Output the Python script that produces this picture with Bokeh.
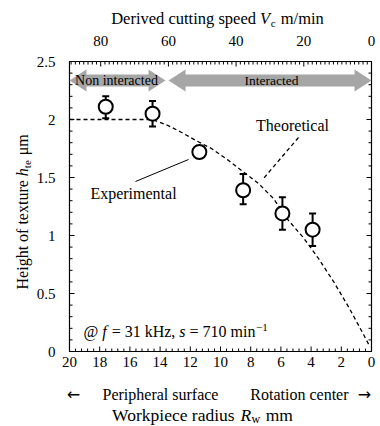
import math
import numpy as np
from bokeh.plotting import figure
from bokeh.models import Range1d, Label, Whisker, ColumnDataSource, TeeHead
from bokeh.core.properties import value
from bokeh.embed import file_html
from bokeh.resources import INLINE

# ---------------- data ----------------
radius_exp = [17.6, 14.5, 11.4, 8.5, 5.9, 3.9]          # mm
height_exp = [2.11, 2.05, 1.72, 1.39, 1.19, 1.05]       # um
height_upper = [2.20, 2.16, 1.72, 1.53, 1.33, 1.19]
height_lower = [2.01, 1.94, 1.72, 1.27, 1.05, 0.91]

radius_theory = [20, 14.5, 13.5, 12.6, 11.5, 10.6, 9.5, 8.5, 7.5, 6.5, 5.5, 4.5, 3.5, 2.5, 1.5, 0.5, 0.1]
height_theory = [2.0, 2.0, 1.95, 1.89, 1.81, 1.75, 1.65, 1.55, 1.45, 1.32, 1.13, 0.98, 0.80, 0.60, 0.38, 0.14, 0.04]

zone_names = ["Non interacted", "Interacted"]
zone_from = [20.0, 13.44]
zone_to = [13.64, 0.0]

radius_ticks = [20, 18, 16, 14, 12, 10, 8, 6, 4, 2, 0]
height_ticks = [0, 0.5, 1, 1.5, 2, 2.5]
speed_ticks = [80, 60, 40, 20, 0]

spindle_speed = 710     # min^-1
frequency_khz = 31
R_MAX, H_MAX = 20.0, 2.5
vc_max = 2 * math.pi * R_MAX * spindle_speed / 1000.0   # m/min at R = 20 mm

FONT = "Liberation Serif"

# ---------------- geometry (page pixels) ----------------
W, HT = 380, 425
FL, FT, FW, FH = 69, 61, 302, 290      # plot box
PXX = R_MAX / FW                       # R units per px
PXY = H_MAX / FH                       # h units per px

def X(px):
    return R_MAX * (FL + FW - px) / FW

def Y(py):
    return H_MAX * (FT + FH - py) / FH

p = figure(width=W, height=HT, x_range=Range1d(X(0), X(W)), y_range=Range1d(Y(HT), Y(0)),
           min_border=0, output_backend="svg", toolbar_location=None,
           x_axis_location=None, y_axis_location=None)
p.xgrid.visible = False
p.ygrid.visible = False
p.outline_line_color = None
p.background_fill_color = "white"
p.border_fill_color = "white"

# ---------------- axes box and ticks ----------------
p.quad(left=[R_MAX], right=[0], bottom=[0], top=[H_MAX], fill_color=None,
       line_color="black", line_width=1.2)

MAJ, MIN = 5, 3
def seg(x0, y0, x1, y1):
    p.segment(x0=x0, y0=y0, x1=x1, y1=y1, line_color="black", line_width=1)

# bottom (radius) ticks: major every 2, minor every 0.4
r_minor = [v for v in np.round(np.arange(0, R_MAX + 1e-9, 0.4), 6) if abs(v / 2 - round(v / 2)) > 1e-6]
seg(radius_ticks, [0] * len(radius_ticks), radius_ticks, [MAJ * PXY] * len(radius_ticks))
seg(r_minor, [0] * len(r_minor), r_minor, [MIN * PXY] * len(r_minor))

# top (speed) ticks: major every 20, minor every 1.25
v_minor = [v for v in np.arange(0, vc_max, 1.25) if abs(v / 20 - round(v / 20)) > 1e-6]
vt = [v / vc_max * R_MAX for v in speed_ticks]
vm = [v / vc_max * R_MAX for v in v_minor]
seg(vt, [H_MAX] * len(vt), vt, [H_MAX - MAJ * PXY] * len(vt))
seg(vm, [H_MAX] * len(vm), vm, [H_MAX - MIN * PXY] * len(vm))

# left / right (height) ticks: major every 0.5, minor every 0.1
h_minor = [v for v in np.round(np.arange(0, H_MAX + 1e-9, 0.1), 6) if abs(v / 0.5 - round(v / 0.5)) > 1e-6]
for side, d in ((R_MAX, -1), (0.0, 1)):
    seg([side] * len(height_ticks), height_ticks, [side + d * MAJ * PXX] * len(height_ticks), height_ticks)
    seg([side] * len(h_minor), h_minor, [side + d * MIN * PXX] * len(h_minor), h_minor)

# tick labels
TK = value("15px")
def tick_text(xv, yv, labels, align):
    p.text(x=xv, y=yv, text=labels, text_font=value(FONT), text_font_size=TK,
           text_align=value(align), text_baseline=value("middle"), text_color="black")

tick_text(radius_ticks, [Y(361)] * len(radius_ticks), [str(v) for v in radius_ticks], "center")
tick_text(vt, [Y(40)] * len(vt), [str(v) for v in speed_ticks], "center")
tick_text([X(55)] * len(height_ticks), height_ticks, [f"{v:g}" for v in height_ticks], "right")

# ---------------- zone arrows ----------------
L = 17 * PXX      # head length
H = 11 * PXY      # head half height
S = 6 * PXY       # shaft half height
c = Y(80)
xs, ys = [], []
for a, b in zip(zone_from, zone_to):
    xs.append([a, a - L, a - L, b + L, b + L, b, b + L, b + L, a - L, a - L])
    ys.append([c, c + H, c + S, c + S, c + H, c, c - H, c - S, c - S, c - H])
p.patches(xs, ys, fill_color="#a6a6a6", line_color=None)

# ---------------- theoretical curve ----------------
p.line(radius_theory, height_theory, line_color="black", line_width=1.3, line_dash="4 3")

# leader lines
p.line([X(298), X(263)], [Y(137), Y(178)], line_color="black", line_width=1.3, line_dash="4 3")
p.line([X(135), X(188)], [Y(181), Y(159)], line_color="black", line_width=1)

# ---------------- experimental ----------------
src = ColumnDataSource(dict(r=radius_exp, h=height_exp, up=height_upper, lo=height_lower))
w = Whisker(source=src, base="r", upper="up", lower="lo", dimension="height",
            line_color="black", line_width=2,
            upper_head=TeeHead(size=7, line_width=2, line_color="black"),
            lower_head=TeeHead(size=7, line_width=2, line_color="black"))
p.add_layout(w)
p.scatter("r", "h", source=src, marker="circle", size=14, fill_color="white",
          line_color="black", line_width=2)

# ---------------- texts ----------------
REG = {' ': 250, '@': 921, '=': 564, ',': 250, '/': 278, '-': 333, '.': 250, '\u2212': 564,
       'A': 722, 'B': 667, 'C': 667, 'D': 722, 'E': 611, 'F': 556, 'G': 722, 'H': 722, 'I': 333,
       'K': 722, 'L': 611, 'M': 889, 'N': 722, 'O': 722, 'P': 556, 'R': 667, 'S': 556, 'T': 611,
       'V': 722, 'W': 944,
       'a': 444, 'b': 500, 'c': 444, 'd': 500, 'e': 444, 'f': 333, 'g': 500, 'h': 500, 'i': 278,
       'j': 278, 'k': 500, 'l': 278, 'm': 778, 'n': 500, 'o': 500, 'p': 500, 'q': 500, 'r': 333,
       's': 389, 't': 278, 'u': 500, 'v': 500, 'w': 722, 'x': 500, 'y': 500, 'z': 444,
       '\u03bc': 576}
ITA = {'f': 278, 's': 389, 'h': 500, 'R': 611, 'V': 611, 'w': 667}

def tw(text, st, size):
    tab = ITA if st == "italic" else REG
    return sum(tab.get(ch, REG.get(ch, 500)) for ch in text) * size / 1000.0

N, I = "normal", "italic"

def lab(px, py, text, size, align="left", st=N, xo=0.0, yo=0.0, angle=0.0, font=FONT):
    p.add_layout(Label(x=X(px), y=Y(py), x_offset=xo, y_offset=yo, angle=angle, text=text,
                       text_font=font, text_font_style=st, text_font_size=f"{size}px",
                       text_align=align, text_baseline="middle", text_color="black"))

def rich(px, py, pieces, align="left", vertical=False):
    """pieces: (text, style, size, rise, extra_px); px/py: anchor at the text's vertical middle"""
    widths = [tw(t, st, sz) + ex for t, st, sz, d, ex in pieces]
    total = sum(widths)
    off = 0.0 if align == "left" else (-total / 2 if align == "center" else -total)
    for (t, st, sz, d, ex), wd in zip(pieces, widths):
        body = t.lstrip(" ")
        lead = (len(t) - len(body)) * REG[' '] * sz / 1000.0
        if vertical:
            lab(px, py, body, sz, st=st, xo=-d, yo=off + lead, angle=math.pi / 2)
        else:
            lab(px, py, body, sz, st=st, xo=off + lead, yo=d)
        off += wd

# zone texts and annotations
lab(116, 80, zone_names[0], 14, align="center")
lab(271, 80, zone_names[1], 13.5, align="center")
lab(292, 125, "Theoretical", 16, align="center")
lab(133, 193, "Experimental", 16, align="center")

rich(83, 331, [("@ ", N, 16, 0, 0), ("f", I, 16, 0, 1), (f" = {frequency_khz} kHz, ", N, 16, 0, 0),
               ("s", I, 16, 0, 0), (f" = {spindle_speed} min", N, 16, 0, 0.5), ("\u22121", N, 11, 4.5, 0)])

# axis titles
rich(217, 18, [("Derived cutting speed ", N, 16.5, 0, 0), ("V", I, 16.5, 0, 0.5),
               ("c", N, 11, -4.5, 1), (" m/min", N, 16.5, 0, 0)], align="center")
rich(22, 211, [("Height of texture ", N, 16, 0, 0), ("h", I, 16, 0, 0),
               ("te", N, 11, -4.5, 1), (" \u03bcm", N, 16, 0, 0)], align="center", vertical=True)
rich(202, 414, [("Workpiece radius ", N, 17.5, 0, 0), ("R", I, 17.5, 0, 0.5),
                ("w", N, 12, -4, 1), (" mm", N, 17.5, 0, 0)], align="center")

# direction row
lab(73, 394, "\u2190", 16, align="center", font="DejaVu Sans")
lab(102, 394, "Peripheral surface", 16, align="left")
lab(348, 394, "Rotation center", 16, align="right")
lab(364, 394, "\u2192", 16, align="center", font="DejaVu Sans")

open("out.html", "w").write(file_html(p, INLINE))
